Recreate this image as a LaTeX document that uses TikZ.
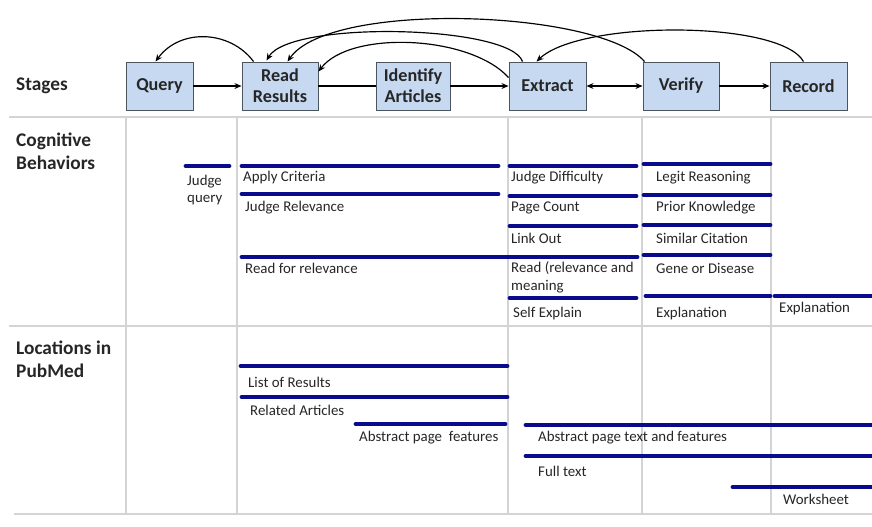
\documentclass[tikz,border=0pt]{standalone}
\usepackage{fontspec}
\setmainfont{Carlito}
\usetikzlibrary{arrows.meta,calc}
\definecolor{boxblue}{HTML}{C6D9F1}
\definecolor{boxedge}{HTML}{4A5560}
\definecolor{barblue}{HTML}{0A0A8C}
\definecolor{gridgray}{HTML}{D4D4D4}
\definecolor{txt}{HTML}{262626}
\begin{document}
\begin{tikzpicture}[x=0.03cm,y=-0.03cm,
  stagebox/.style={draw=boxedge,fill=boxblue,line width=0.8pt,inner sep=0pt,
    minimum height=1.44cm,align=center,font=\bfseries\fontsize{15.5}{17.9}\selectfont,text=txt},
  rowhead/.style={anchor=west,align=left,font=\bfseries\fontsize{16.5}{19.5}\selectfont,text=txt,inner sep=0pt},
  lbl/.style={anchor=west,align=left,font=\fontsize{12.7}{15.3}\selectfont,text=txt,inner sep=0pt},
  bar/.style={draw=barblue,line width=4.2pt,line cap=round},
  grid/.style={draw=gridgray,line width=1.2pt},
  arr/.style={-{Stealth[length=6pt,width=5pt]},line width=1pt,black},
  darr/.style={{Stealth[length=6pt,width=5pt]}-{Stealth[length=6pt,width=5pt]},line width=1pt,black}]
\useasboundingbox (0,0) rectangle (872,526);
% grid
\draw[grid] (9,117) -- (872,117);
\draw[grid] (9,326) -- (872,326);
\draw[grid] (14,514) -- (872,514);
\foreach \gx in {126,237,508,642,771} \draw[grid] (\gx,117) -- (\gx,514);
% row heads
\node[rowhead] (hs) at (16,86) {Stages};
\node[rowhead] (hc) at (16,151) {Cognitive\\Behaviors};
\node[rowhead] (hl) at (16,359) {Locations in\\PubMed};
% stage boxes
\node[stagebox,minimum width=2.01cm] (query) at (159.5,86) {Query};
\node[stagebox,minimum width=2.28cm] (read) at (280,86) {Read\\Results};
\node[stagebox,minimum width=2.22cm] (ident) at (413,86) {Identify\\Articles};
\node[stagebox,minimum width=2.31cm] (extract) at (547.5,86) {Extract};
\node[stagebox,minimum width=2.28cm] (verify) at (681,86) {Verify};
\node[stagebox,minimum width=2.31cm] (record) at (808.5,86) {Record};
% straight connectors
\draw[arr] (query.east) -- (read.west);
\draw[line width=1pt] (read.east) -- (ident.west);
\draw[arr] (ident.east) -- (extract.west);
\draw[darr] (extract.east) -- (verify.west);
\draw[arr] (verify.east) -- (record.west);
% curved connectors
\draw[arr] ($(read.north west)+(12,0)$) .. controls (230,30) and (180,28) .. ($(query.north)+(-4,0)$);
\draw[arr] ($(extract.north west)+(14,0)$) .. controls (510,25) and (290,20) .. ($(read.north west)+(25,-1)$);
\draw[arr] ($(verify.north west)+(2,0)$) .. controls (600,10) and (330,0) .. ($(read.north west)+(46,0)$);
\draw[arr] ($(extract.north west)+(0,16)$) .. controls (470,35) and (350,30) .. ($(read.north east)+(0,10)$);
\draw[arr] ($(record.north)+(-5,0)$) .. controls (780,20) and (580,20) .. ($(extract.north west)+(28,0)$);
% cognitive behaviors bars
\draw[bar] (186,166) -- (229,166);
\draw[bar] (242,166) -- (498,166);
\draw[bar] (242,194) -- (498,194);
\draw[bar] (242,257) -- (637,257);
\draw[bar] (510,166) -- (636,166);
\draw[bar] (510,196) -- (636,196);
\draw[bar] (510,226) -- (636,226);
\draw[bar] (510,298) -- (636,298);
\draw[bar] (644,164) -- (770,164);
\draw[bar] (644,195) -- (770,195);
\draw[bar] (644,225) -- (770,225);
\draw[bar] (644,255) -- (770,255);
\draw[bar] (646,296) -- (770,296);
\draw[bar] (775,296) -- (874,296);
% cognitive labels
\node[lbl] (jq) at (187,190) {Judge\\query};
\node[lbl] (ac) at (243,178) {Apply Criteria};
\node[lbl] (jr) at (245,208) {Judge Relevance};
\node[lbl] (rr) at (245,268) {Read for relevance};
\node[lbl] (jd) at (511,178) {Judge Difficulty};
\node[lbl] (pc) at (511,208) {Page Count};
\node[lbl] (lo) at (511,238) {Link Out};
\node[lbl] (rm) at (511,277) {Read (relevance and\\meaning};
\node[lbl] (se) at (513,314) {Self Explain};
\node[lbl] (lr) at (656,178) {Legit Reasoning};
\node[lbl] (pk) at (656,208) {Prior Knowledge};
\node[lbl] (sc) at (656,238) {Similar Citation};
\node[lbl] (gd) at (656,268) {Gene or Disease};
\node[lbl] (ex1) at (656,314) {Explanation};
\node[lbl] (ex2) at (779,309) {Explanation};
% location bars
\draw[bar] (241,366) -- (507,366);
\draw[bar] (242,397) -- (507,397);
\draw[bar] (356,424) -- (505,424);
\draw[bar] (526,425) -- (874,425);
\draw[bar] (526,456) -- (874,456);
\draw[bar] (733,487) -- (874,487);
% location labels
\node[lbl] (lres) at (248,382) {List of Results};
\node[lbl] (lrel) at (250,410) {Related Articles};
\node[lbl] (lapf) at (359,438) {Abstract page\ \ features};
\node[lbl] (lapt) at (538,438) {Abstract page text and features};
\node[lbl] (lft) at (538,471) {Full text};
\node[lbl] (lws) at (783,499) {Worksheet};
\end{tikzpicture}
\end{document}
